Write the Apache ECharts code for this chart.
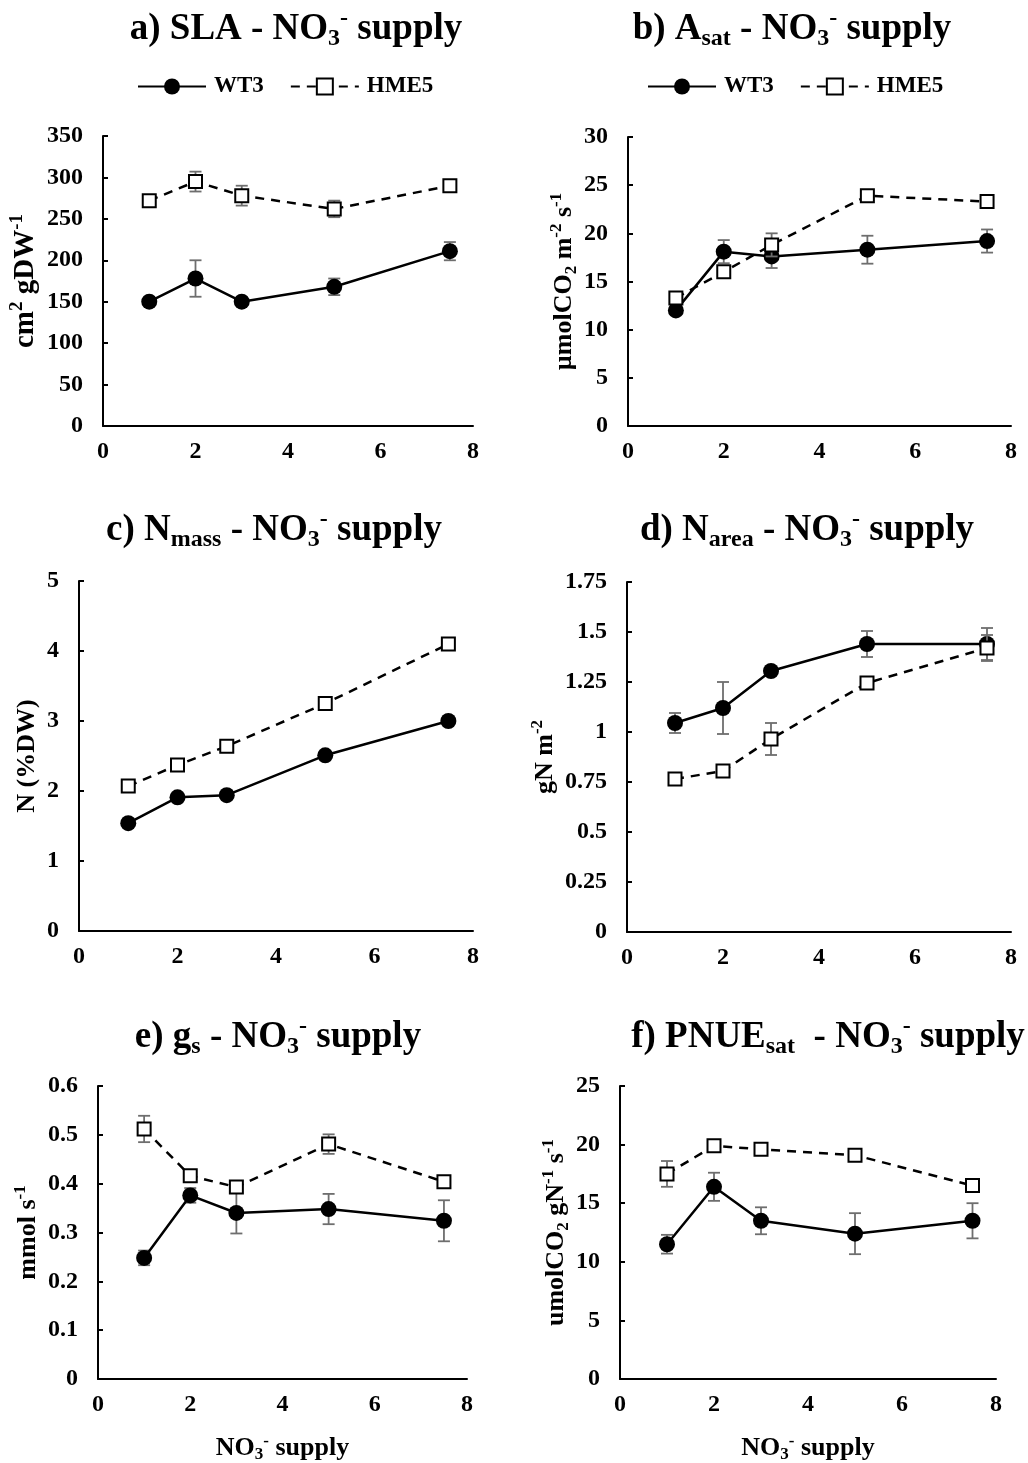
<!DOCTYPE html>
<html><head><meta charset="utf-8">
<script src="https://cdn.jsdelivr.net/npm/echarts@6/dist/echarts.min.js"></script>
<style>html,body{margin:0;padding:0;background:#fff}#chart{width:1028px;height:1463px}</style>
</head><body><div id="chart"></div>
<script>
// ---- data ----
const supply = [1, 2, 3, 5, 7.5];
const seriesNames = ['WT3', 'HME5'];

const slaWT3 = [150, 178, 150, 168, 211];
const slaWT3Err = [4, 22, 3, 10, 11];
const slaHME5 = [272, 295, 278, 262, 290];
const slaHME5Err = [5, 12, 12, 10, 5];

const asatWT3 = [12.0, 18.1, 17.6, 18.3, 19.2];
const asatWT3Err = [0.4, 1.2, 1.2, 1.45, 1.2];
const asatHME5 = [13.3, 16.0, 18.8, 23.9, 23.3];
const asatHME5Err = [0.5, 0.4, 1.2, 0.4, 0.4];

const nmassWT3 = [1.54, 1.91, 1.94, 2.51, 3.0];
const nmassWT3Err = [0.03, 0.03, 0.03, 0.03, 0.03];
const nmassHME5 = [2.07, 2.37, 2.64, 3.25, 4.1];
const nmassHME5Err = [0.03, 0.03, 0.07, 0.03, 0.03];

const nareaWT3 = [1.045, 1.12, 1.305, 1.44, 1.44];
const nareaWT3Err = [0.05, 0.13, 0.02, 0.065, 0.08];
const nareaHME5 = [0.765, 0.805, 0.965, 1.245, 1.42];
const nareaHME5Err = [0.02, 0.02, 0.08, 0.02, 0.065];

const gsWT3 = [0.248, 0.376, 0.340, 0.348, 0.324];
const gsWT3Err = [0.015, 0.015, 0.042, 0.031, 0.042];
const gsHME5 = [0.512, 0.416, 0.393, 0.481, 0.404];
const gsHME5Err = [0.027, 0.01, 0.01, 0.02, 0.008];

const pnueWT3 = [11.5, 16.4, 13.5, 12.4, 13.5];
const pnueWT3Err = [0.8, 1.2, 1.15, 1.75, 1.5];
const pnueHME5 = [17.5, 19.9, 19.6, 19.1, 16.5];
const pnueHME5Err = [1.1, 0.3, 0.4, 0.3, 0.3];

const xMin = 0, xMax = 8, xStep = 2;

const titles = [
  'a) SLA - NO{sub|3}{sup|-} supply',
  'b) A{sub|sat} - NO{sub|3}{sup|-} supply',
  'c) N{sub|mass} - NO{sub|3}{sup|-} supply',
  'd) N{sub|area} - NO{sub|3}{sup|-} supply',
  'e) g{sub|s} - NO{sub|3}{sup|-} supply',
  'f) PNUE{sub|sat}  - NO{sub|3}{sup|-} supply'
];
const yNames = [
  'cm{sup|2} gDW{sup|-1}',
  'µmolCO{sub|2} m{sup|-2} s{sup|-1}',
  'N (%DW)',
  'gN m{sup|-2}',
  'mmol s{sup|-1}',
  'umolCO{sub|2} gN{sup|-1} s{sup|-1}'
];
const xName = 'NO{sub|3}{sup|-} supply';
const yMax = [350, 30, 5, 1.75, 0.6, 25];
const yStep = [50, 5, 1, 0.25, 0.1, 5];

const panelData = [
  [slaWT3, slaWT3Err, slaHME5, slaHME5Err],
  [asatWT3, asatWT3Err, asatHME5, asatHME5Err],
  [nmassWT3, nmassWT3Err, nmassHME5, nmassHME5Err],
  [nareaWT3, nareaWT3Err, nareaHME5, nareaHME5Err],
  [gsWT3, gsWT3Err, gsHME5, gsHME5Err],
  [pnueWT3, pnueWT3Err, pnueHME5, pnueHME5Err]
];

// ---- layout ----
const FONT = "'Liberation Serif', 'Times New Roman', serif";
const grids = [
  {left: 103, top: 136, width: 370, height: 290},
  {left: 628, top: 137, width: 383, height: 289},
  {left: 79, top: 581, width: 394, height: 350},
  {left: 627, top: 582, width: 384, height: 350},
  {left: 98, top: 1086, width: 369, height: 293},
  {left: 620, top: 1086, width: 376, height: 293}
];
const titlePos = [[296, 7], [792, 7], [274, 508], [807, 508], [278, 1015], [828, 1015]];
const yNameGap = [57, 48, 36, 65, 52, 47];
const yNameSize = [29, 26, 26, 26, 26, 26];

function richText(size) {
  const sub = Math.round(size * 0.66);
  return {
    sub: {fontSize: sub, fontFamily: FONT, fontWeight: 'bold', color: '#000', lineHeight: sub, verticalAlign: 'bottom'},
    sup: {fontSize: sub, fontFamily: FONT, fontWeight: 'bold', color: '#000', lineHeight: sub, verticalAlign: 'top'}
  };
}

function errSeries(idx, vals, errs, z) {
  return {
    type: 'custom', xAxisIndex: idx, yAxisIndex: idx, z: z, silent: true,
    data: supply.map((x, i) => [x, vals[i], errs[i]]),
    encode: {x: 0, y: 1},
    renderItem: function (params, api) {
      const x = api.value(0), y = api.value(1), e = api.value(2);
      const top = api.coord([x, y + e]), bot = api.coord([x, y - e]);
      const hw = 6;
      const style = {stroke: '#6e6e6e', lineWidth: 1.8, fill: null};
      return {type: 'group', children: [
        {type: 'line', shape: {x1: top[0], y1: top[1], x2: bot[0], y2: bot[1]}, style: style},
        {type: 'line', shape: {x1: top[0] - hw, y1: top[1], x2: top[0] + hw, y2: top[1]}, style: style},
        {type: 'line', shape: {x1: bot[0] - hw, y1: bot[1], x2: bot[0] + hw, y2: bot[1]}, style: style}
      ]};
    }
  };
}

const option = {
  animation: false,
  backgroundColor: '#fff',
  title: titles.map((t, i) => ({
    text: t, left: titlePos[i][0], top: titlePos[i][1], textAlign: 'center', padding: 0,
    textStyle: {fontSize: 37, fontWeight: 'bold', fontFamily: FONT, color: '#000', lineHeight: 44,
      rich: richText(37)}
  })),
  legend: [137, 647].map(l => ({
    data: seriesNames, left: l, top: 75, padding: 0, itemWidth: 68, itemHeight: 20, itemGap: 26,
    textStyle: {fontSize: 23, fontWeight: 'bold', fontFamily: FONT, color: '#000', padding: [0, 0, 0, 3]}
  })),
  grid: grids.map(g => Object.assign({containLabel: false, outerBoundsMode: 'none'}, g)),
  xAxis: grids.map((g, i) => ({
    type: 'value', gridIndex: i, min: xMin, max: xMax, interval: xStep,
    name: i >= 4 ? xName : '', nameLocation: 'middle', nameGap: 54,
    nameTextStyle: {fontSize: 26, fontWeight: 'bold', fontFamily: FONT, color: '#000', lineHeight: 30, rich: richText(26)},
    axisLine: {show: true, onZero: false, lineStyle: {color: '#000', width: 2}},
    axisTick: {show: false},
    splitLine: {show: false},
    axisLabel: {fontSize: 24, fontWeight: 'bold', fontFamily: FONT, color: '#000', margin: 14}
  })),
  yAxis: grids.map((g, i) => ({
    type: 'value', gridIndex: i, min: 0, max: yMax[i], interval: yStep[i],
    name: yNames[i], nameLocation: 'middle', nameRotate: 90, nameGap: yNameGap[i],
    nameTextStyle: {fontSize: yNameSize[i], fontWeight: 'bold', fontFamily: FONT, color: '#000',
      lineHeight: Math.round(yNameSize[i] * 1.23), rich: richText(yNameSize[i])},
    axisLine: {show: true, onZero: false, lineStyle: {color: '#000', width: 2}},
    axisTick: {show: true, inside: true, length: 5, lineStyle: {color: '#000', width: 2}},
    splitLine: {show: false},
    axisLabel: {fontSize: 24, fontWeight: 'bold', fontFamily: FONT, color: '#000', margin: 20}
  })),
  series: []
};

panelData.forEach((d, i) => {
  option.series.push(errSeries(i, d[0], d[1], 2));
  option.series.push({
    name: 'WT3', type: 'line', xAxisIndex: i, yAxisIndex: i, z: 3,
    data: supply.map((x, k) => [x, d[0][k]]),
    symbol: 'circle', symbolSize: 16,
    lineStyle: {color: '#000', width: 2.5, type: 'solid'},
    itemStyle: {color: '#000', borderColor: '#000', borderWidth: 0}
  });
  option.series.push(errSeries(i, d[2], d[3], 4));
  option.series.push({
    name: 'HME5', type: 'line', xAxisIndex: i, yAxisIndex: i, z: 5,
    data: supply.map((x, k) => [x, d[2][k]]),
    symbol: 'rect', symbolSize: 13,
    lineStyle: {color: '#000', width: 2.5, type: [9, 7]},
    itemStyle: {color: '#fff', borderColor: '#000', borderWidth: 2}
  });
});

const chart = echarts.init(document.getElementById('chart'), null, {renderer: 'canvas'});
chart.setOption(option);
</script>
</body></html>
